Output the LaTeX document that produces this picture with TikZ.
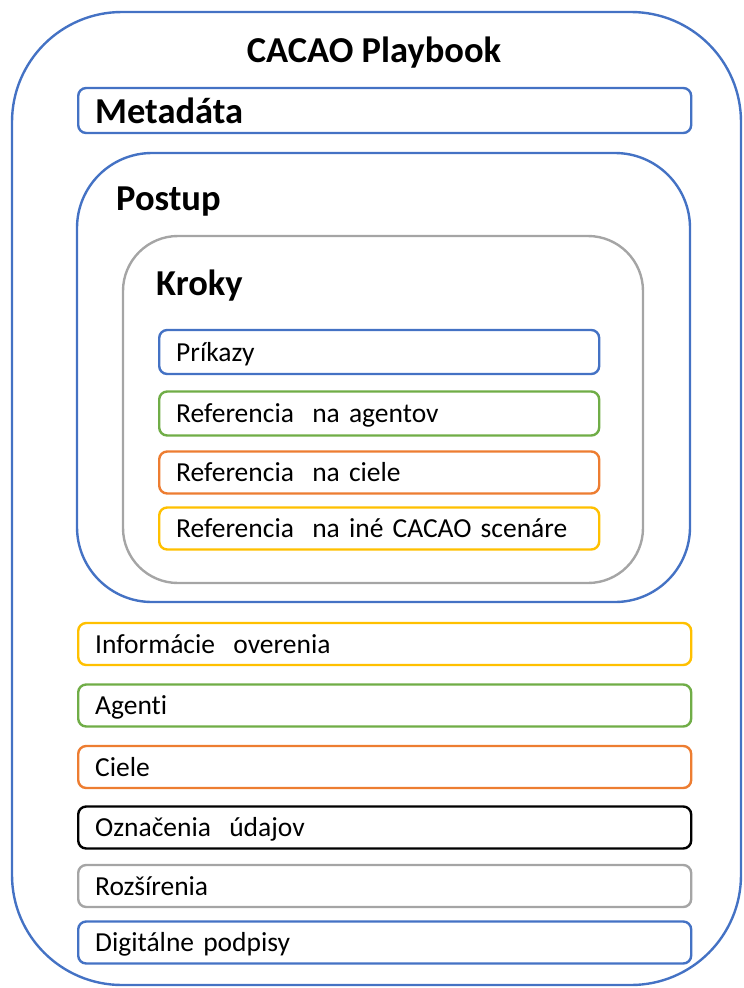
\documentclass[tikz,border=0pt]{standalone}
\usepackage{fontspec}
\setmainfont[Ligatures={NoCommon}]{Carlito}
\usepackage{xcolor}
\usepackage{tikz}
\usetikzlibrary{positioning}

\definecolor{cblue}{HTML}{4472C4}
\definecolor{cgreen}{HTML}{70AD47}
\definecolor{corange}{HTML}{ED7D31}
\definecolor{cyellow}{HTML}{FFC000}
\definecolor{cgray}{HTML}{A5A5A5}

\begin{document}
\begin{tikzpicture}[x=1pt, y=-1pt, line width=2.4pt,
	entry/.style={draw, rounded corners=8pt, anchor=west, minimum height=42pt, inner xsep=17pt, text height=18pt, text depth=0pt, align=left, font=\fontsize{27.5}{33}\selectfont},
	wide/.style={entry, text width=613pt-34pt},
	narrow/.style={entry, text width=440pt-34pt},
	heading/.style={anchor=base west, inner sep=0pt, font=\fontsize{36.5}{40}\selectfont\bfseries}]
			\useasboundingbox (0,0) rectangle (744,988);
			% outer frame
			\draw [cblue] (12,12) [rounded corners=110pt] rectangle (741,985);
			\node [anchor=base, inner sep=0pt, font=\fontsize{36.5}{40}\selectfont\bfseries] (title) at (374,62) {CACAO Playbook};
			
			\node [wide, draw=cblue, text height=25pt, minimum height=45pt, font=\fontsize{36.5}{40}\selectfont\bfseries] (meta) at (77,110.5) {Metadáta};
			
			% postup
			\draw [cblue] (77,153) [rounded corners=75pt] rectangle (690,602);
			\node [heading] (postup) at (115,210) {Postup};
			
			% kroky
			\draw [cgray] (123,236) [rounded corners=55pt] rectangle (643,583);
			\node [heading] (kroky) at (155,295) {Kroky};
			
			\node [narrow, draw=cblue, minimum height=44pt] (prikazy) at (158,352) {Príkazy};
			\node [narrow, draw=cgreen, minimum height=44pt] (refagent) at (158,413.5) {Referencia\ \ na agentov};
			\node [narrow, draw=corange] (refciel) at (158,472.5) {Referencia\ \ na ciele};
			\node [narrow, draw=cyellow] (refscen) at (158,528.5) {Referencia\ \ na iné CACAO scenáre};
			
			% zvysne casti
			\node [wide, draw=cyellow] (overenie) at (77,644) {Informácie\ \ overenia};
			\node [wide, draw=cgreen] (agenti) at (77,705.5) {Agenti};
			\node [wide, draw=corange] (ciele) at (77,767) {Ciele};
			\node [wide, draw=black] (oznacenia) at (77,827.5) {Označenia\ \ údajov};
			\node [wide, draw=cgray] (rozsirenia) at (77,886) {Rozšírenia};
			\node [wide, draw=cblue] (podpisy) at (77,942.5) {Digitálne podpisy};
\end{tikzpicture}
\end{document}
